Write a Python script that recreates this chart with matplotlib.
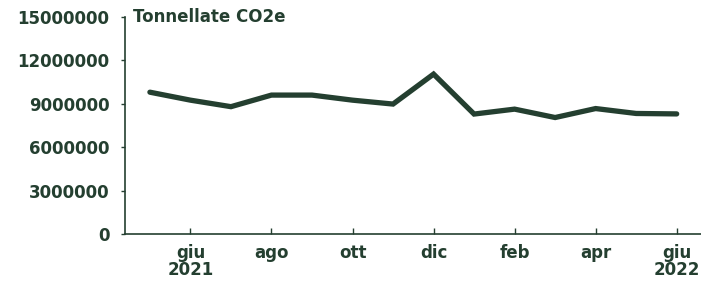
import matplotlib.pyplot as plt

# monthly CO2e emissions, May 2021 - June 2022
months = ['mag 2021', 'giu 2021', 'lug 2021', 'ago 2021', 'set 2021', 'ott 2021',
          'nov 2021', 'dic 2021', 'gen 2022', 'feb 2022', 'mar 2022', 'apr 2022',
          'mag 2022', 'giu 2022']
values = [9800000, 9250000, 8800000, 9600000, 9600000, 9250000, 8980000,
          11050000, 8290000, 8630000, 8050000, 8670000, 8330000, 8300000]
tick_months = [1, 3, 5, 7, 9, 11, 13]
tick_labels = ['giu\n2021', 'ago', 'ott', 'dic', 'feb', 'apr', 'giu\n2022']
y_ticks = [0, 3000000, 6000000, 9000000, 12000000, 15000000]

color = '#243f30'
plt.rcParams['font.family'] = 'DejaVu Sans'
plt.rcParams['font.weight'] = 'bold'

fig = plt.figure(figsize=(7.01, 2.82), dpi=100)
ax = fig.add_axes([0.178, 0.170, 0.822, 0.770])

x = list(range(len(values)))
ax.plot(x, values, color=color, lw=3.8, solid_capstyle='round', solid_joinstyle='miter')

ax.set_xlim(-0.62, 13.6)
ax.set_ylim(0, 15000000)
ax.set_xticks(tick_months)
ax.set_xticklabels(tick_labels, fontsize=12, fontweight='bold', color=color, linespacing=0.95)
ax.set_yticks(y_ticks)
ax.set_yticklabels([str(v) for v in y_ticks], fontsize=12, fontweight='bold', color=color)

for s in ['top', 'right']:
    ax.spines[s].set_visible(False)
for s in ['left', 'bottom']:
    ax.spines[s].set_color(color)
    ax.spines[s].set_linewidth(1.2)

ax.tick_params(axis='x', direction='in', length=4, width=1, color=color, pad=7)
ax.tick_params(axis='y', direction='out', length=3, width=1, color=color, pad=8)

ax.text(0.014, 1.0, 'Tonnellate CO2e', transform=ax.transAxes, ha='left', va='center',
        fontsize=12, fontweight='bold', color=color)

plt.savefig('out.png', dpi=100)
